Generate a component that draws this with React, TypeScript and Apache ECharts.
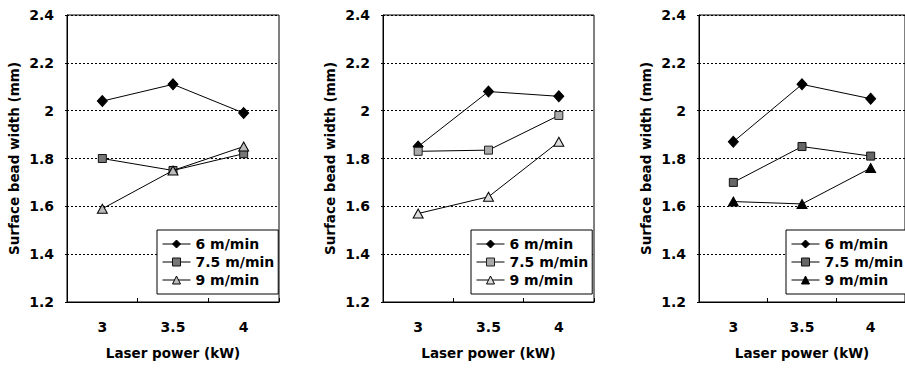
import React, { useEffect, useRef } from 'react';
import * as echarts from 'echarts';

const categories = ['3', '3.5', '4'];
const seriesNames = ['6 m/min', '7.5 m/min', '9 m/min'];
const yMin = 1.2;
const yMax = 2.4;
const yStep = 0.2;

// Panel 1 (left)
const p1Speed6 = [2.04, 2.11, 1.99];
const p1Speed75 = [1.80, 1.75, 1.82];
const p1Speed9 = [1.59, 1.75, 1.85];
// Panel 2 (middle)
const p2Speed6 = [1.85, 2.08, 2.06];
const p2Speed75 = [1.83, 1.835, 1.98];
const p2Speed9 = [1.57, 1.64, 1.87];
// Panel 3 (right)
const p3Speed6 = [1.87, 2.11, 2.05];
const p3Speed75 = [1.70, 1.85, 1.81];
const p3Speed9 = [1.62, 1.61, 1.76];

const panelData = [
  [p1Speed6, p1Speed75, p1Speed9],
  [p2Speed6, p2Speed75, p2Speed9],
  [p3Speed6, p3Speed75, p3Speed9],
];

const FONT = 'DejaVu Sans';

const grids = [
  { left: 67, top: 15, width: 212, height: 287 },
  { left: 383, top: 15, width: 211, height: 287 },
  { left: 699, top: 15, width: 210, height: 287 },
];
const legendPos = [
  { left: 157, top: 230 },
  { left: 471, top: 230 },
  { left: 786, top: 230 },
];

const symbols = ['diamond', 'rect', 'triangle'];
const symbolSizes: any[] = [[10, 11], 8, [10, 9]];
const markerStyles = [
  [
    { color: '#000', borderColor: '#000', borderWidth: 1 },
    { color: '#777', borderColor: '#111', borderWidth: 1 },
    { color: '#bbb', borderColor: '#000', borderWidth: 1 },
  ],
  [
    { color: '#000', borderColor: '#000', borderWidth: 1 },
    { color: '#aaa', borderColor: '#222', borderWidth: 1 },
    { color: '#ddd', borderColor: '#000', borderWidth: 1 },
  ],
  [
    { color: '#000', borderColor: '#000', borderWidth: 1 },
    { color: '#666', borderColor: '#111', borderWidth: 1 },
    { color: '#000', borderColor: '#000', borderWidth: 1 },
  ],
];

export default function App() {
  const ref = useRef<HTMLDivElement>(null);
  useEffect(() => {
    if (!ref.current) return;
    const chart = echarts.init(ref.current, undefined, { renderer: 'svg' });
    const textBase = { fontFamily: FONT, fontWeight: 'bold' as const, fontSize: 14, color: '#000' };
    const nameBase = { fontFamily: FONT, fontWeight: 'bold' as const, fontSize: 13.5, color: '#000' };

    const option: any = {
      animation: false,
      backgroundColor: '#fff',
      grid: grids.map((g) => ({ ...g, show: true, borderColor: '#000', borderWidth: 1, backgroundColor: 'transparent' })),
      xAxis: grids.map((_, i) => ({
        type: 'category',
        gridIndex: i,
        data: categories,
        boundaryGap: true,
        name: 'Laser power (kW)',
        nameLocation: 'middle',
        nameGap: 44,
        nameTextStyle: { ...nameBase },
        axisLine: { lineStyle: { color: '#000', width: 1 } },
        axisTick: { show: true, inside: true, length: 4, lineStyle: { color: '#000' } },
        axisLabel: { ...textBase, margin: 18 },
        splitLine: { show: false },
      })),
      yAxis: grids.map((_, i) => ({
        type: 'value',
        gridIndex: i,
        min: yMin,
        max: yMax,
        interval: yStep,
        name: 'Surface bead width (mm)',
        nameLocation: 'middle',
        nameGap: 46,
        nameRotate: 90,
        nameTextStyle: { ...nameBase },
        axisLine: { show: true, lineStyle: { color: '#000', width: 1 } },
        axisTick: { show: true, length: 2, lineStyle: { color: '#000' } },
        axisLabel: { ...textBase, margin: 13, formatter: (v: number) => String(Math.round(v * 10) / 10) },
        splitLine: { show: true, lineStyle: { color: '#000', width: 1, type: [2, 2] } },
      })),
      legend: grids.map((_, i) => ({
        orient: 'vertical',
        left: legendPos[i].left,
        top: legendPos[i].top,
        backgroundColor: '#fff',
        borderColor: '#000',
        borderWidth: 1,
        borderRadius: 0,
        padding: [7, 4, 7, 5],
        itemGap: 4,
        itemWidth: 28,
        itemHeight: 10,
        textStyle: { ...textBase, lineHeight: 14 },
        selectedMode: false,
        data: seriesNames.map((n, k) => ({
          name: n,
          itemStyle: markerStyles[i][k],
          lineStyle: { color: '#000', width: 1 },
        })),
      })),
      series: panelData.flatMap((arr, i) =>
        arr.map((vals, k) => ({
          type: 'line',
          name: seriesNames[k],
          xAxisIndex: i,
          yAxisIndex: i,
          data: vals,
          symbol: symbols[k],
          symbolSize: symbolSizes[k],
          showAllSymbol: true,
          lineStyle: { color: '#000', width: 1 },
          itemStyle: markerStyles[i][k],
          emphasis: { disabled: true },
          z: 3 + k,
        }))
      ),
    };
    chart.setOption(option);
    return () => chart.dispose();
  }, []);
  return (
    <div
      ref={ref}
      style={{ position: 'fixed', left: 0, top: 0, width: 905, height: 368, background: '#fff' }}
    />
  );
}
